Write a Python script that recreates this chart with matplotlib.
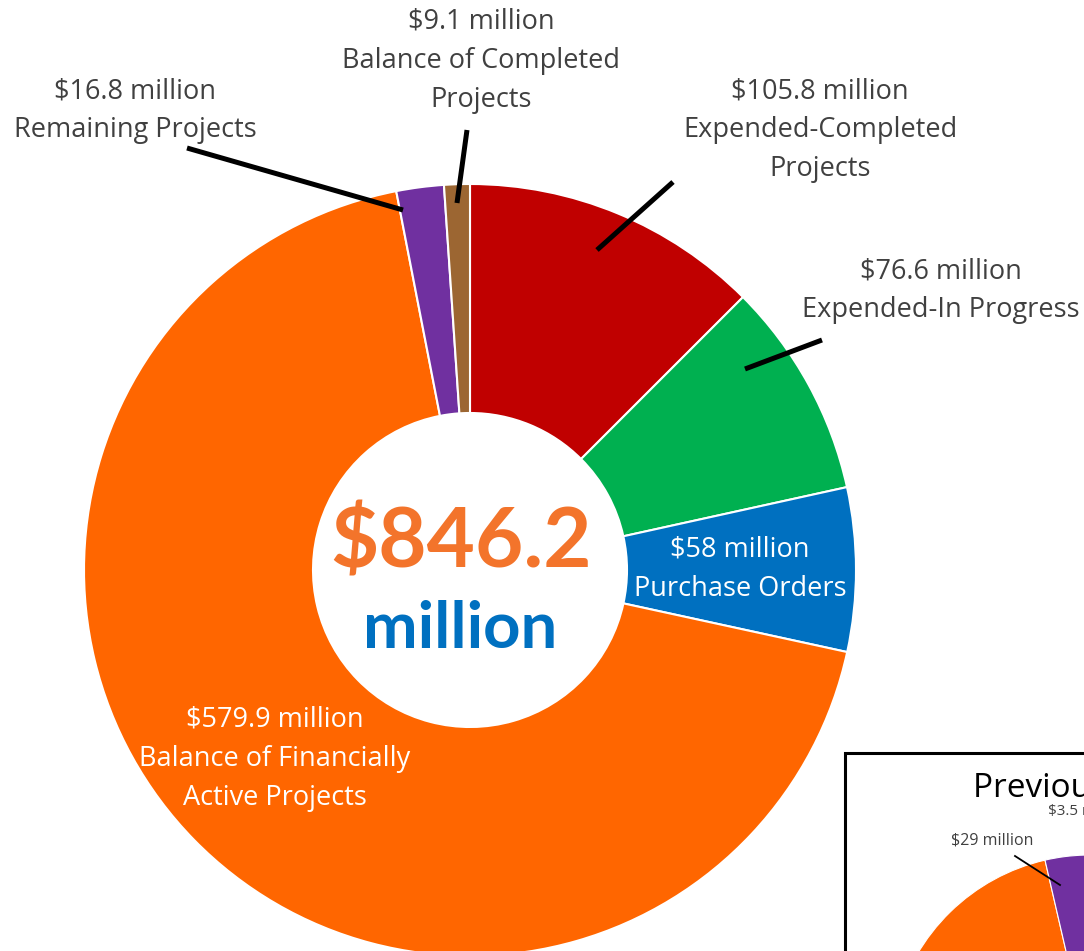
import matplotlib.pyplot as plt
from matplotlib.patches import Rectangle

# Data
categories = ["Expended-Completed\nProjects", "Expended-In Progress", "Purchase Orders",
              "Balance of Financially\nActive Projects", "Remaining Projects",
              "Balance of Completed\nProjects"]
values = [105.8, 76.6, 58, 579.9, 16.8, 9.1]
colors = ["#C00000", "#00B050", "#0070C0", "#FF6600", "#7030A0", "#9C6632"]
total_label = "$846.2"

# previous period (only part visible in the inset; hidden slices estimated)
prev_values = [100, 80, 60, 627.5, 29, 3.5]

W, H = 1084, 951
fig = plt.figure(figsize=(W / 100, H / 100), dpi=100)
ax = fig.add_axes([0, 0, 1, 1])


def Y(y):
  return H - y


# main donut
cx, cy, r = 470, 570, 386
ax.pie(values, colors=colors, startangle=90, counterclock=False,
       center=(cx, Y(cy)), radius=r,
       wedgeprops={"width": r - 157, "edgecolor": "white", "linewidth": 1.5})

ax.text(461, Y(567), total_label, ha="center", va="baseline", fontsize=60,
        fontweight="bold", family="Lato", color="#F3742B")
ax.text(460, Y(648), "million", ha="center", va="baseline", fontsize=47,
        fontweight="bold", family="Lato", color="#0070C0")

# labels: (index, center x, first line y, color)
label_layout = [
  (0, 820, 91, "#404040"),
  (1, 941, 271, "#404040"),
  (2, 740, 550, "white"),
  (3, 275, 720, "white"),
  (4, 135, 91, "#404040"),
  (5, 481, 22, "#404040"),
]
for i, x, y0, c in label_layout:
  lines = [f"${values[i]:g} million"] + categories[i].split("\n")
  for j, line in enumerate(lines):
    ax.text(x, Y(y0 + 39 * j), line, ha="center", va="center", fontsize=19.5,
            family="Open Sans", color=c)

# leader lines
leaders = [
  ((673, 182), (597, 250)),
  ((822, 340), (745, 369)),
  ((187, 148), (403, 210)),
  ((467, 130), (457, 203)),
]
for (x1, y1), (x2, y2) in leaders:
  ax.plot([x1, x2], [Y(y1), Y(y2)], color="black", lw=3.6, solid_capstyle="butt")

# inset with previous period
ax.add_patch(Rectangle((845, Y(1000)), 400, 247, facecolor="white",
                       edgecolor="black", lw=2.2, zorder=3))
wedges, _ = ax.pie(prev_values, colors=colors, startangle=90, counterclock=False,
                   center=(1090, Y(1055)), radius=200,
                   wedgeprops={"edgecolor": "white", "linewidth": 0.8})
for w in wedges:
  w.set_zorder(4)
ax.text(973, Y(797), "Previous Quarter", ha="left", va="baseline", fontsize=24,
        family="Open Sans", color="black", zorder=5)
ax.text(1048, Y(815), "$3.5 million", ha="left", va="baseline", fontsize=11,
        family="Open Sans", color="#404040", zorder=5)
ax.text(992, Y(845), "$29 million", ha="center", va="baseline", fontsize=11.5,
        family="Open Sans", color="#404040", zorder=5)
ax.plot([1015, 1060], [Y(856), Y(885)], color="black", lw=1.3, zorder=5)

ax.set_xlim(0, W)
ax.set_ylim(0, H)
ax.set_aspect("equal")
ax.axis("off")

fig.savefig("out.png", dpi=100, facecolor="white")
